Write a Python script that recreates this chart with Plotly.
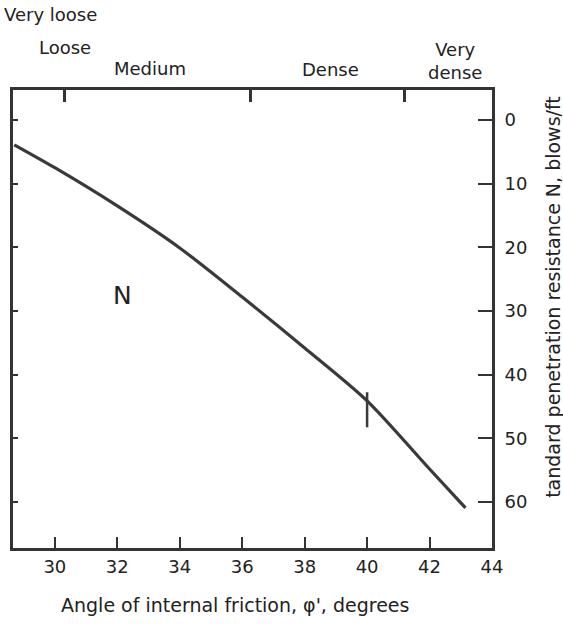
import numpy as np
import plotly.graph_objects as go

# Data
phi = [28.7, 30, 32, 34, 36, 38, 40, 42, 43.15]
n_values = [3.9, 7.5, 13.5, 20.1, 27.8, 35.8, 44.1, 54.8, 60.9]

x_ticks = [30, 32, 34, 36, 38, 40, 42, 44]
y_ticks = [0, 10, 20, 30, 40, 50, 60]

density_bounds = [30.3, 36.25, 41.2]
density_labels = ["Very loose", "Loose", "Medium", "Dense", "Very<br>dense"]

mark_phi = [40]

# Layout-only placement of the density labels (paper coordinates)
label_pos = [(-0.022, 1.164, "left"), (0.1086, 1.092, "center"), (0.286, 1.048, "center"),
             (0.662, 1.044, "center"), (0.923, 1.063, "center")]

FONT = "DejaVu Sans, Liberation Sans, Arial, sans-serif"
INK = "#333333"
TXT = "#222222"

fig = go.Figure()

fig.add_trace(go.Scatter(
    x=phi, y=n_values, mode="lines",
    line=dict(color="#3a3a3a", width=3.2, shape="spline", smoothing=0.8),
    showlegend=False, hoverinfo="skip",
))

mark_n = list(np.interp(mark_phi, phi, n_values) + 1.4)
fig.add_trace(go.Scatter(
    x=mark_phi, y=mark_n, mode="markers",
    marker=dict(symbol="line-ns", size=25, line=dict(color="#3a3a3a", width=2.5)),
    showlegend=False, hoverinfo="skip",
))

# invisible traces so the top and left axes render
fig.add_trace(go.Scatter(
    x=density_bounds, y=[0, 0, 0], xaxis="x2", yaxis="y",
    mode="markers", marker=dict(opacity=0), showlegend=False, hoverinfo="skip",
))
fig.add_trace(go.Scatter(
    x=[30], y=[0], xaxis="x", yaxis="y2",
    mode="markers", marker=dict(opacity=0), showlegend=False, hoverinfo="skip",
))

x_range = [28.66, 44]
y_range = [67.2, -4.7]

fig.update_layout(
    width=563, height=624,
    margin=dict(l=13, r=71, t=90, b=76),
    paper_bgcolor="white", plot_bgcolor="white",
    font=dict(family=FONT, color=TXT),
    xaxis=dict(
        range=x_range, tickmode="array", tickvals=x_ticks,
        ticks="inside", ticklen=11, tickwidth=2, tickcolor=INK,
        showline=True, linewidth=2.8, linecolor=INK,
        showgrid=False, zeroline=False,
        tickfont=dict(size=18, family=FONT, color=TXT),
        ticklabelstandoff=0,
    ),
    xaxis2=dict(
        range=x_range, overlaying="x", side="top", tickmode="array",
        tickvals=density_bounds, ticktext=["", "", ""],
        ticks="inside", ticklen=12, tickwidth=3, tickcolor=INK,
        showline=True, linewidth=2.8, linecolor=INK,
        showgrid=False, zeroline=False,
    ),
    yaxis=dict(
        range=y_range, side="right", tickmode="array", tickvals=y_ticks,
        ticks="inside", ticklen=14, tickwidth=2, tickcolor=INK,
        showline=True, linewidth=2.8, linecolor=INK,
        showgrid=False, zeroline=False,
        tickfont=dict(size=18, family=FONT, color=TXT),
        ticklabelstandoff=6,
    ),
    yaxis2=dict(
        range=y_range, overlaying="y", side="left", tickmode="array",
        tickvals=y_ticks, ticktext=[""] * len(y_ticks),
        ticks="inside", ticklen=5, tickwidth=2, tickcolor=INK,
        showline=True, linewidth=2.8, linecolor=INK,
        showgrid=False, zeroline=False,
    ),
)

for lab, (lx, ly, anc) in zip(density_labels, label_pos):
    fig.add_annotation(
        x=lx, y=ly, xref="paper", yref="paper", text=lab, showarrow=False,
        xanchor=anc, yanchor="middle",
        font=dict(size=18, family=FONT, color=TXT),
    )

fig.add_annotation(
    x=32.17, y=27.6, xref="x", yref="y", text="N", showarrow=False,
    font=dict(size=25, family=FONT, color=TXT),
)

fig.add_annotation(
    x=0.463, y=-0.124, xref="paper", yref="paper",
    text="Angle of internal friction, φ', degrees", showarrow=False,
    xanchor="center", yanchor="middle",
    font=dict(size=19, family=FONT, color=TXT),
)

fig.add_annotation(
    x=1.127, y=0.548, xref="paper", yref="paper",
    text="tandard penetration resistance N, blows/ft",
    showarrow=False, textangle=-90, xanchor="center", yanchor="middle",
    font=dict(size=19, family=FONT, color=TXT),
)

fig.write_html(
    "out.html",
    config={"displayModeBar": False},
    post_script="document.body.style.margin='0';document.body.style.overflow='hidden';",
)
